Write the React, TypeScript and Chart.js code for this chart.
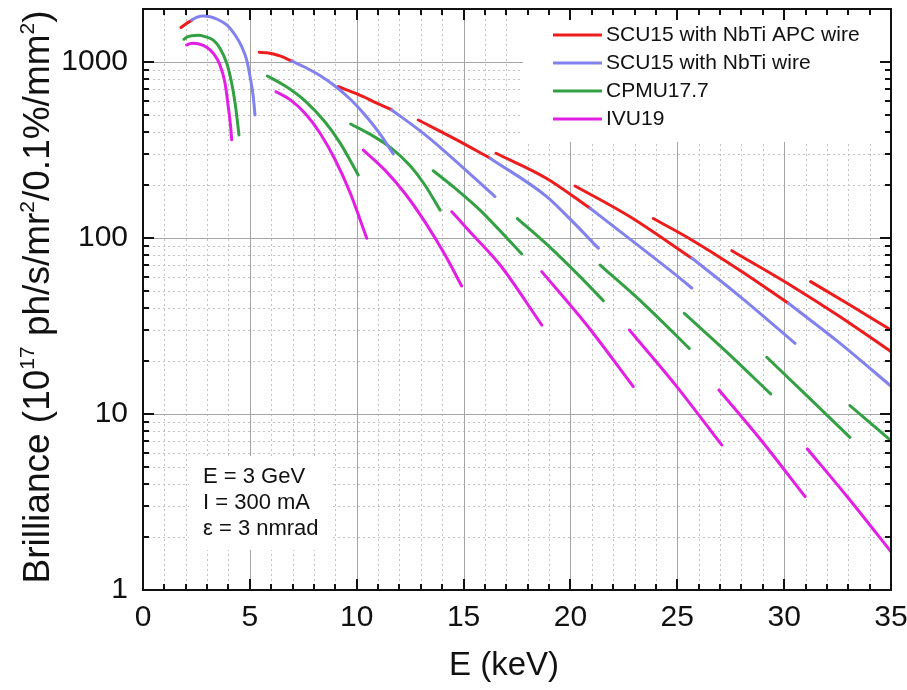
import React, { useEffect, useRef } from 'react';
import { Chart, registerables } from 'chart.js';

Chart.register(...registerables);

const FONT = "'Liberation Sans', Arial, Helvetica, sans-serif";

type Pt = [number, number];

// Brilliance tuning curves: one arc per harmonic, [photon energy (keV), brilliance (1e17 units)].
// Where the two SCU15 variants coincide, only the NbTi-wire curve is listed.
const scuApcArcs: Pt[][] = [
  [[1.78, 1570], [2.02, 1650], [2.28, 1725]],
  [[5.44, 1135], [5.79, 1129], [6.1, 1110], [6.41, 1082], [6.96, 1013]],
  [[9.14, 724], [10.31, 635], [10.78, 595], [11.64, 534]],
  [[12.88, 468], [14.68, 361], [16.24, 284]],
  [[16.52, 303], [18.89, 218], [20.92, 147.5]],
  [[20.22, 197.5], [22.79, 132], [25.66, 77]],
  [[23.88, 129], [25.6, 98.7], [27.94, 65.4], [30.2, 42.6]],
  [[27.55, 84.7], [30.28, 54.1], [32.6, 35.8], [35, 22.6]],
  [[31.24, 56.5], [33.08, 41.6], [35, 30]],
];

const scuNbTiArcs: Pt[][] = [
  [[2.28, 1732], [2.51, 1794], [2.82, 1825], [3.14, 1809], [3.45, 1755], [3.92, 1623], [4.31, 1424],
   [4.62, 1222], [4.85, 1027], [5.01, 825], [5.16, 635], [5.24, 500]],
  [[6.96, 1013], [7.58, 933], [8.28, 837], [8.98, 730], [9.69, 616], [10.39, 500], [11.09, 390], [11.71, 300]],
  [[11.64, 534], [13.12, 393], [14.05, 316], [16.47, 172]],
  [[16.24, 284], [18.89, 172], [20.07, 125], [21.31, 87.4]],
  [[20.92, 147.5], [22.94, 95.3], [25.13, 59], [25.68, 52]],
  [[25.68, 77], [27.94, 46.4], [30.51, 25.2]],
  [[30.2, 42.6], [32.62, 25.2], [35, 14.4]],
];

const cpmuArcs: Pt[][] = [
  [[1.92, 1346], [2.04, 1382], [2.28, 1411], [2.59, 1418], [2.9, 1393], [3.29, 1331], [3.6, 1196],
   [3.92, 983], [4.15, 757], [4.31, 583], [4.41, 468], [4.49, 385]],
  [[5.82, 833], [6.64, 732], [7.58, 602], [8.52, 456], [9.22, 347], [10.07, 228]],
  [[9.72, 444], [10.62, 389], [11.56, 328], [12.49, 258], [13.19, 200], [13.9, 144]],
  [[13.58, 241], [14.6, 192], [15.77, 144], [17.72, 81.1]],
  [[17.52, 129], [18.95, 90.7], [20.45, 60.3], [21.54, 44]],
  [[21.39, 70.2], [23.49, 41.6], [25.56, 23.6]],
  [[25.33, 37.3], [27.33, 22.4], [29.37, 13.0]],
  [[29.19, 21.0], [31.12, 12.5], [33.08, 7.37]],
  [[33.08, 11.15], [35, 7.05]],
];

const ivuArcs: Pt[][] = [
  [[2.04, 1249], [2.2, 1271], [2.35, 1277], [2.67, 1261], [2.98, 1212], [3.29, 1120], [3.6, 962],
   [3.84, 757], [3.99, 557], [4.1, 429], [4.15, 361]],
  [[6.22, 678], [6.88, 611], [7.58, 511], [8.28, 395], [8.98, 280], [9.69, 181], [10.47, 99.6]],
  [[10.31, 316], [11.32, 243], [12.26, 179], [13.2, 123], [14.13, 80.2], [14.91, 53.4]],
  [[14.45, 141], [15.22, 111], [16.71, 70.2], [18.66, 32.0]],
  [[18.66, 64.4], [20.8, 31.6], [22.94, 14.3]],
  [[22.76, 30.0], [24.92, 14.6], [27.08, 6.67]],
  [[26.95, 13.7], [28.97, 6.98], [30.98, 3.39]],
  [[31.09, 6.33], [33.02, 3.31], [35, 1.65]],
];

const seriesLabels = ['SCU15 with NbTi APC wire', 'SCU15 with NbTi wire', 'CPMU17.7', 'IVU19'];
const seriesColors = ['#ee1c1c', '#8282ee', '#33a043', '#e21fe4'];
const seriesArcs = [scuApcArcs, scuNbTiArcs, cpmuArcs, ivuArcs];
// drawing order: higher value is painted first (underneath)
const seriesOrder = [1, 0, 0, 0];

const energyTicks = [0, 5, 10, 15, 20, 25, 30, 35];
const brillianceTicks = [1, 10, 100, 1000];
const beamNotes = ['E = 3 GeV', 'I = 300 mA', 'ε = 3 nmrad'];

function arcsToPoints(arcs: Pt[][]) {
  const out: { x: number; y: number | null }[] = [];
  arcs.forEach((arc, i) => {
    if (i > 0) out.push({ x: arc[0][0], y: null });
    arc.forEach(([x, y]) => out.push({ x, y }));
  });
  return out;
}

function drawYTitle(ctx: CanvasRenderingContext2D, cx: number, cy: number, size: number) {
  const parts: { t: string; sup?: boolean }[] = [
    { t: 'Brilliance (10' }, { t: '17', sup: true }, { t: ' ph/s/mr' }, { t: '2', sup: true },
    { t: '/0.1%/mm' }, { t: '2', sup: true }, { t: ')' },
  ];
  const baseFont = `${size}px ${FONT}`;
  const supFont = `${Math.round(size * 0.58)}px ${FONT}`;
  const widths = parts.map((p) => {
    ctx.font = p.sup ? supFont : baseFont;
    return ctx.measureText(p.t).width;
  });
  const total = widths.reduce((a, b) => a + b, 0);
  ctx.save();
  ctx.translate(cx, cy);
  ctx.rotate(-Math.PI / 2);
  ctx.fillStyle = '#111';
  ctx.textBaseline = 'alphabetic';
  ctx.textAlign = 'left';
  let x = -total / 2;
  const base = size * 0.36;
  parts.forEach((p, i) => {
    ctx.font = p.sup ? supFont : baseFont;
    ctx.fillText(p.t, x, p.sup ? base - size * 0.42 : base);
    x += widths[i];
  });
  ctx.restore();
}

const decorations = {
  id: 'decorations',
  beforeDatasetsDraw(chart: any) {
    const { ctx, chartArea: a } = chart;
    const xs = chart.scales.x;
    const ys = chart.scales.y;
    const px = (v: number) => Math.round(xs.getPixelForValue(v)) + 0.5;
    const py = (v: number) => Math.round(ys.getPixelForValue(v)) + 0.5;
    ctx.save();
    ctx.lineWidth = 1;
    // minor grid: every keV and 2..9 within each decade
    ctx.strokeStyle = '#c2c2c2';
    ctx.setLineDash([2, 3]);
    ctx.beginPath();
    for (let e = 1; e < 35; e++) {
      if (e % 5 === 0) continue;
      const X = px(e);
      ctx.moveTo(X, a.top);
      ctx.lineTo(X, a.bottom);
    }
    for (const d of [1, 10, 100, 1000]) {
      for (let k = 2; k <= 9; k++) {
        const v = k * d;
        if (v >= ys.max) continue;
        const Y = py(v);
        ctx.moveTo(a.left, Y);
        ctx.lineTo(a.right, Y);
      }
    }
    ctx.stroke();
    // major grid
    ctx.setLineDash([]);
    ctx.strokeStyle = '#a4a4a4';
    ctx.beginPath();
    for (const e of energyTicks) {
      if (e === 0 || e === 35) continue;
      const X = px(e);
      ctx.moveTo(X, a.top);
      ctx.lineTo(X, a.bottom);
    }
    for (const v of brillianceTicks) {
      if (v === 1) continue;
      const Y = py(v);
      ctx.moveTo(a.left, Y);
      ctx.lineTo(a.right, Y);
    }
    ctx.stroke();
    // blank panels behind the legend and the beam parameters
    ctx.fillStyle = '#ffffff';
    ctx.fillRect(a.left + 380, a.top, a.right - a.left - 380, 133);
    ctx.fillRect(a.left + 46, a.top + 447, 142, 94);
    ctx.restore();
  },
  afterDatasetsDraw(chart: any) {
    const { ctx, chartArea: a } = chart;
    const xs = chart.scales.x;
    const ys = chart.scales.y;
    ctx.save();
    // frame
    ctx.strokeStyle = '#111';
    ctx.lineWidth = 2;
    ctx.strokeRect(a.left, a.top, a.right - a.left, a.bottom - a.top);
    // inward ticks on all four sides
    ctx.beginPath();
    for (let e = 0; e <= 35; e++) {
      const X = Math.round(xs.getPixelForValue(e));
      const len = e % 5 === 0 ? 11 : 6;
      ctx.moveTo(X, a.bottom);
      ctx.lineTo(X, a.bottom - len);
      ctx.moveTo(X, a.top);
      ctx.lineTo(X, a.top + len);
    }
    for (const d of [1, 10, 100, 1000]) {
      for (let k = 1; k <= 9; k++) {
        const v = k * d;
        if (v >= ys.max) continue;
        const Y = Math.round(ys.getPixelForValue(v));
        const len = k === 1 ? 11 : 6;
        ctx.moveTo(a.left, Y);
        ctx.lineTo(a.left + len, Y);
        ctx.moveTo(a.right, Y);
        ctx.lineTo(a.right - len, Y);
      }
    }
    ctx.stroke();

    // legend
    ctx.font = `21px ${FONT}`;
    ctx.textBaseline = 'middle';
    ctx.textAlign = 'left';
    seriesLabels.forEach((label, i) => {
      const y = a.top + 26 + i * 28;
      ctx.strokeStyle = seriesColors[i];
      ctx.lineWidth = 3;
      ctx.beginPath();
      ctx.moveTo(a.left + 410, y);
      ctx.lineTo(a.left + 459, y);
      ctx.stroke();
      ctx.fillStyle = '#111';
      ctx.fillText(label, a.left + 463, y);
    });

    // beam parameters
    ctx.font = `22px ${FONT}`;
    ctx.textBaseline = 'alphabetic';
    ctx.fillStyle = '#111';
    beamNotes.forEach((t, i) => {
      ctx.fillText(t, a.left + 60, a.top + 474 + i * 26);
    });
    ctx.restore();
  },
  afterDraw(chart: any) {
    const { ctx } = chart;
    ctx.save();
    ctx.fillStyle = '#111';
    ctx.font = `33px ${FONT}`;
    ctx.textAlign = 'center';
    ctx.textBaseline = 'middle';
    ctx.fillText('E (keV)', 504, 666);
    ctx.restore();
    drawYTitle(ctx, 36, 297, 37);
  },
};

export default function App() {
  const ref = useRef<HTMLCanvasElement>(null);

  useEffect(() => {
    if (!ref.current) return;
    const tickFont = { family: FONT, size: 30 };
    const chart = new Chart(ref.current, {
      type: 'line',
      data: {
        datasets: seriesLabels.map((label, i) => ({
          label,
          data: arcsToPoints(seriesArcs[i]),
          borderColor: seriesColors[i],
          backgroundColor: seriesColors[i],
          borderWidth: 3,
          pointRadius: 0,
          pointHoverRadius: 0,
          fill: false,
          spanGaps: false,
          cubicInterpolationMode: 'monotone' as const,
          borderCapStyle: 'round' as const,
          order: seriesOrder[i],
        })),
      },
      options: {
        animation: false,
        responsive: false,
        parsing: true,
        layout: { padding: { left: 8, right: 16, top: 9, bottom: 0 } },
        plugins: {
          legend: { display: false },
          tooltip: { enabled: false },
        },
        scales: {
          x: {
            type: 'linear',
            min: 0,
            max: 35,
            grid: { display: false, drawTicks: false },
            border: { display: false },
            afterBuildTicks: (s: any) => {
              s.ticks = energyTicks.map((value) => ({ value }));
            },
            afterFit: (s: any) => {
              s.height = 100;
              s.paddingLeft = 0;
              s.paddingRight = 0;
            },
            ticks: {
              autoSkip: false,
              maxRotation: 0,
              padding: 10,
              color: '#111',
              font: tickFont,
              callback: (v: any) => String(v),
            },
          },
          y: {
            type: 'logarithmic',
            min: 1,
            max: 2000,
            grid: { display: false, drawTicks: false },
            border: { display: false },
            afterBuildTicks: (s: any) => {
              s.ticks = brillianceTicks.map((value) => ({ value }));
            },
            afterFit: (s: any) => {
              s.width = 135;
              s.paddingTop = 0;
              s.paddingBottom = 0;
            },
            ticks: {
              autoSkip: false,
              padding: 15,
              color: '#111',
              font: tickFont,
              callback: (v: any) => String(v),
            },
          },
        },
      },
      plugins: [decorations],
    } as any);
    return () => chart.destroy();
  }, []);

  return (
    <div style={{ position: 'absolute', left: 0, top: 0, width: 907, height: 690, background: '#fff' }}>
      <canvas ref={ref} width={907} height={690} style={{ display: 'block', width: 907, height: 690 }} />
    </div>
  );
}
